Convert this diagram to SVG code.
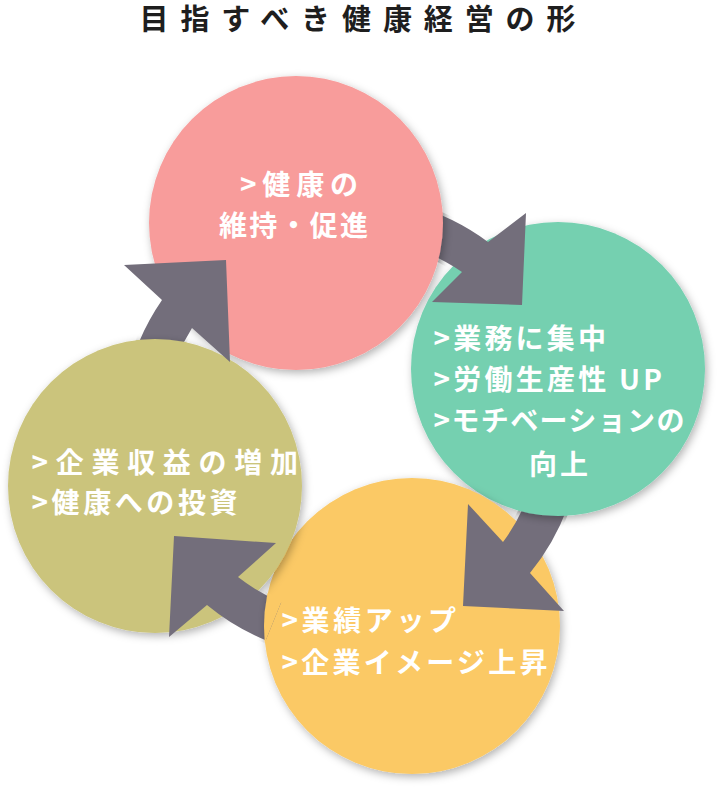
<svg xmlns="http://www.w3.org/2000/svg" xmlns:xlink="http://www.w3.org/1999/xlink" width="717" height="790" viewBox="0 0 717 790">
<style>
.title{font-family:"Liberation Sans","Noto Sans CJK JP","Noto Sans CJK SC",sans-serif;font-weight:700;font-size:29px;fill:#1e1e1e}
.t{font-family:"Noto Sans CJK JP","Noto Sans CJK SC",sans-serif;font-weight:700;font-size:28px;fill:#ffffff}
.arrow{fill:#736e7b}
</style>
<defs>
<filter id="sh" x="-20%" y="-20%" width="140%" height="140%">
<feDropShadow dx="2" dy="3" stdDeviation="4" flood-color="#000" flood-opacity="0.3"/>
</filter>
<clipPath id="clipP"><path d="M408.4,200.9 A233,233 0 0 1 475.5,229.4 L450.6,269.3 A186,186 0 0 0 397,246.5 Z"/></clipPath>
<clipPath id="clipG"><path d="M574.8,495.1 A233,233 0 0 1 547.4,553.9 L508,528.3 A186,186 0 0 0 529.9,481.4 Z"/></clipPath>
<clipPath id="clipY"><path d="M264.7,643 A233,233 0 0 1 221.7,620.2 L248,581.2 A186,186 0 0 0 282.3,599.5 Z"/></clipPath>
<clipPath id="clipO"><path d="M121.9,390.6 A233,233 0 0 1 150.2,310.5 L190.9,334 A186,186 0 0 0 168.3,397.9 Z"/></clipPath>
</defs>

<text class="title" x="139.5" y="29.5" textLength="436" lengthAdjust="spacing">目指すべき健康経営の形</text>

<g id="node-pink">
<circle id="c-pink" cx="296" cy="223" r="147" fill="#f89c9b" filter="url(#sh)"/>
<text class="t" x="240" y="195" textLength="118" lengthAdjust="spacing">&gt;健康の</text>
<text class="t" x="219" y="236" textLength="149" lengthAdjust="spacing">維持・促進</text>
</g>

<g id="node-green">
<circle id="c-green" cx="558" cy="369" r="147" fill="#74d0b0" filter="url(#sh)"/>
<text class="t" x="433.5" y="348.5" textLength="172.5" lengthAdjust="spacing">&gt;業務に集中</text>
<text class="t" x="433.5" y="389.5" textLength="228.5" lengthAdjust="spacing">&gt;労働生産性 UP</text>
<text class="t" x="433.5" y="431" textLength="251" lengthAdjust="spacing">&gt;モチベーションの</text>
<text class="t" x="529" y="474.5" textLength="59" lengthAdjust="spacing">向上</text>
</g>

<g id="node-yellow">
<circle id="c-yellow" cx="412" cy="626" r="148" fill="#fbc965" filter="url(#sh)"/>
<text class="t" x="281.5" y="631" textLength="174.5" lengthAdjust="spacing">&gt;業績アップ</text>
<text class="t" x="281.5" y="673" textLength="266" lengthAdjust="spacing">&gt;企業イメージ上昇</text>
</g>

<g id="node-olive">
<circle id="c-olive" cx="155" cy="486" r="147" fill="#cbc47b" filter="url(#sh)"/>
<text class="t" x="31.5" y="473" textLength="266.5" lengthAdjust="spacing">&gt;企業収益の増加</text>
<text class="t" x="31.5" y="513" textLength="206" lengthAdjust="spacing">&gt;健康への投資</text>
</g>

<g id="connectors">
<path id="a-pink-green" class="arrow" d="M411.5,204.8 A230,230 0 0 1 488,242 L526,213 L522,305 L432,302 L462,272 A189,189 0 0 0 400.9,244.4 Z"/>
<path id="a-green-yellow" class="arrow" d="M570.7,498.1 A230,230 0 0 1 530,573 L564,611 L463,606 L468,504 L503,542 A189,189 0 0 0 531.7,485.4 Z"/>
<path id="a-yellow-olive" class="arrow" d="M265.8,640.3 A230,230 0 0 1 207,605 L169,637 L174,536 L276,543 L238,577 A189,189 0 0 0 281.2,602.2 Z"/>
<path id="a-olive-pink" class="arrow" d="M125.5,387.1 A230,230 0 0 1 162,300 L124,265 L226,260 L230,362 L192,328 A189,189 0 0 0 165.9,394.2 Z"/>
</g>

<g id="tail-covers">
<use xlink:href="#c-pink" clip-path="url(#clipP)"/>
<use xlink:href="#c-green" clip-path="url(#clipG)"/>
<use xlink:href="#c-yellow" clip-path="url(#clipY)"/>
<use xlink:href="#c-olive" clip-path="url(#clipO)"/>
</g>
</svg>
